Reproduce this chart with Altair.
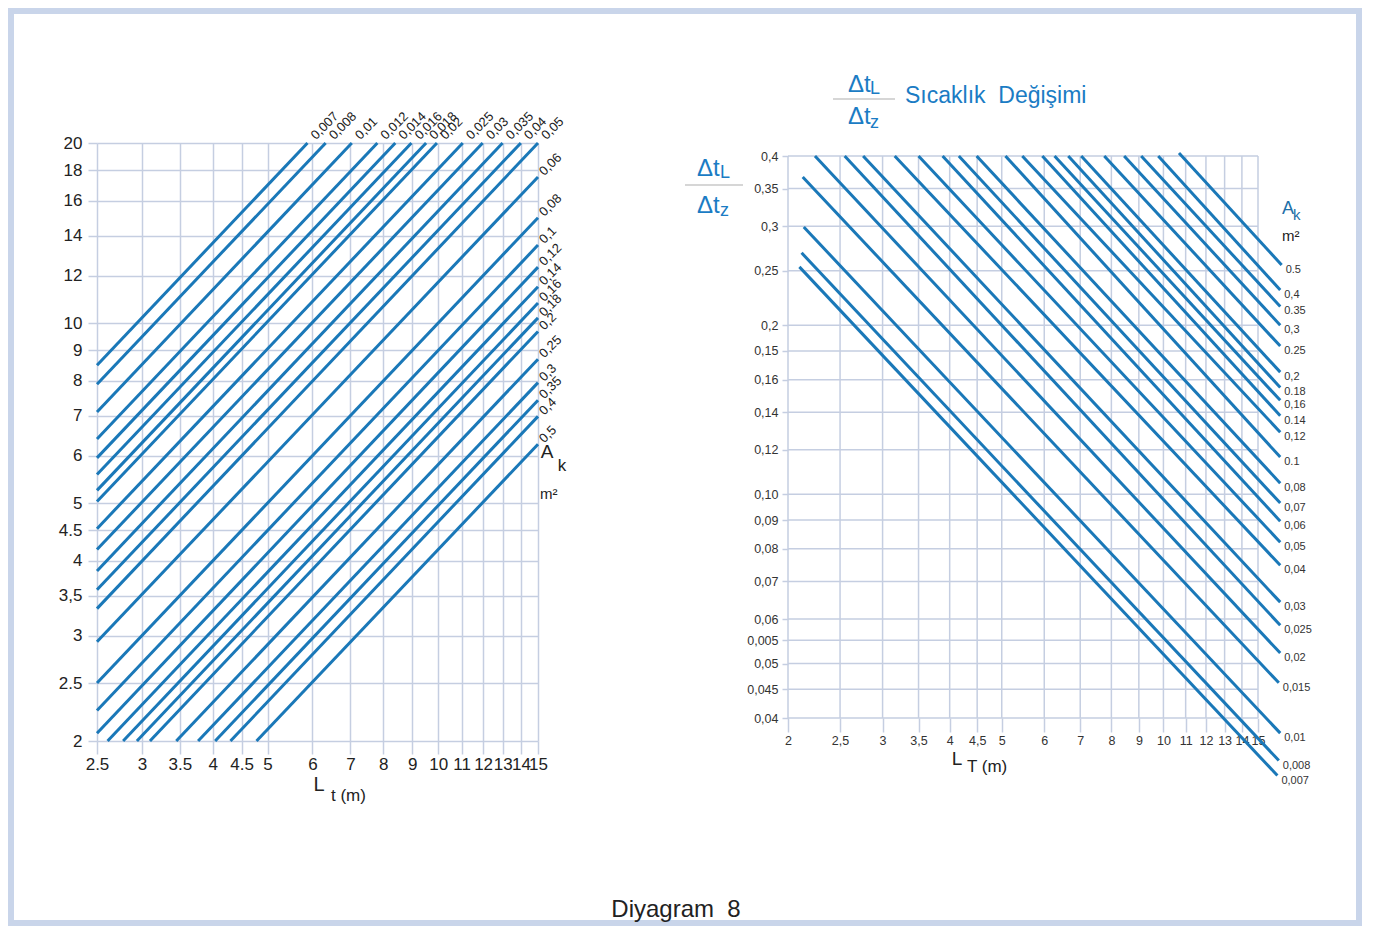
import json
import altair as alt
import pandas as pd

FONT = "Liberation Sans"
GRID = "#c5cee1"
LINE = "#1a78b8"
BLUE = "#1b7cc4"
DARK = "#222222"
BORDER = "#c9d5ea"
NB = "\u00a0"

# ---------------- left panel (L_t vs ... for A_k) ----------------
left_ak = ["0,007", "0,008", "0,01", "0,012", "0,014", "0,016", "0,018", "0,02", "0,025",
           "0,03", "0,035", "0,04", "0,05", "0,06", "0,08", "0,1", "0,12", "0,14", "0,16",
           "0,18", "0,2", "0,25", "0,3", "0,35", "0,4", "0,5"]
left_x0 = [2.5, 2.5, 2.5, 2.5, 2.5, 2.5, 2.5, 2.5, 2.5, 2.5, 2.5, 2.5, 2.5, 2.5, 2.5, 2.5, 2.5,
           2.61, 2.78, 2.94, 3.10, 3.45, 3.77, 4.04, 4.30, 4.78]
left_y0 = [8.5, 7.9, 7.1, 6.4, 5.95, 5.58, 5.25, 5.03, 4.53, 4.18, 3.85, 3.58, 3.33, 2.93, 2.5,
           2.25, 2.06, 2, 2, 2, 2, 2, 2, 2, 2, 2]
left_x1 = [5.88, 6.33, 7.04, 7.81, 8.40, 8.97, 9.52, 9.95, 11.05, 11.98, 12.99, 13.99, 15,
           15, 15, 15, 15, 15, 15, 15, 15, 15, 15, 15, 15, 15]
left_y1 = [20, 20, 20, 20, 20, 20, 20, 20, 20, 20, 20, 20, 20,
           17.55, 15.0, 13.5, 12.4, 11.5, 10.8, 10.2, 9.68, 8.7, 7.95, 7.43, 6.98, 6.27]

left_xticks = [2.5, 3, 3.5, 4, 4.5, 5, 6, 7, 8, 9, 10, 11, 12, 13, 14, 15]
left_xlabels = ["2.5", "3", "3.5", "4", "4.5", "5", "6", "7", "8", "9", "10", "11", "12", "13", "14", "15"]
left_yticks = [2, 2.5, 3, 3.5, 4, 4.5, 5, 6, 7, 8, 9, 10, 12, 14, 16, 18, 20]
left_ylabels = ["2", "2.5", "3", "3,5", "4", "4.5", "5", "6", "7", "8", "9", "10", "12", "14", "16", "18", "20"]

# ---------------- right panel (dtL/dtz vs L_T) ----------------
right_ak = ["0,007", "0,008", "0,01", "0,015", "0,02", "0,025", "0,03", "0,04", "0,05", "0,06",
            "0,07", "0,08", "0.1", "0,12", "0.14", "0,16", "0.18", "0,2", "0.25", "0,3", "0.35",
            "0,4", "0.5"]
right_x0 = [2.10, 2.12, 2.14, 2.13, 2.245, 2.55, 2.76, 3.16, 3.50, 3.88, 4.16, 4.49, 5.08, 5.46,
            5.95, 6.27, 6.65, 7.03, 7.76, 8.45, 9.09, 9.78, 10.69]
right_y0 = [0.254, 0.269, 0.299, 0.367, 0.4, 0.4, 0.4, 0.4, 0.4, 0.4, 0.4, 0.4, 0.4, 0.4, 0.4,
            0.4, 0.4, 0.4, 0.4, 0.4, 0.4, 0.4, 0.405]
right_x1 = [16.3, 16.4, 16.5, 16.4, 16.5, 16.5, 16.5, 16.5, 16.5, 16.5, 16.5, 16.5, 16.5, 16.5,
            16.5, 16.5, 16.5, 16.5, 16.5, 16.5, 16.5, 16.5, 16.6]
right_y1 = [0.0316, 0.0336, 0.0376, 0.0462, 0.0522, 0.0585, 0.0643, 0.0748, 0.0822, 0.0896,
            0.0965, 0.1047, 0.1165, 0.129, 0.138, 0.147, 0.155, 0.165, 0.1836, 0.200, 0.216,
            0.231, 0.256]

right_xticks = [2, 2.5, 3, 3.5, 4, 4.5, 5, 6, 7, 8, 9, 10, 11, 12, 13, 14, 15]
right_xlabels = ["2", "2,5", "3", "3,5", "4", "4,5", "5", "6", "7", "8", "9", "10", "11", "12",
                 "13", "14", "15"]
right_yticks = [0.4, 0.35, 0.3, 0.25, 0.2, 0.18, 0.16, 0.14, 0.12, 0.1, 0.09, 0.08, 0.07, 0.06,
                0.055, 0.05, 0.045, 0.04]
right_ylabels = ["0,4", "0,35", "0,3", "0,25", "0,2", "0,15", "0,16", "0,14", "0,12", "0,10",
                 "0,09", "0,08", "0,07", "0,06", "0,005", "0,05", "0,045", "0,04"]


def lab_expr(values, labels):
    return f"{json.dumps(labels)}[indexof({json.dumps(values)}, datum.value)]"


def txt(text, x, y, size, color=DARK, align="center"):
    return alt.Chart(alt.Data(values=[{"t": text}])).mark_text(
        align=align, baseline="middle", fontSize=size, font=FONT, color=color
    ).encode(x=alt.value(x), y=alt.value(y), text="t:N")


def hbar(x1, x2, y, color="#c8c8c8", width=1.5):
    return alt.Chart(alt.Data(values=[{"t": 1}])).mark_rule(color=color, strokeWidth=width).encode(
        x=alt.value(x1), x2=alt.value(x2), y=alt.value(y))


# ---------- left panel charts ----------
left_lines_df = pd.DataFrame({"ak": left_ak + left_ak, "x": left_x0 + left_x1, "y": left_y0 + left_y1})
left_lab_df = pd.DataFrame({"ak": left_ak, "x": left_x1, "y": left_y1})
left_top_df = left_lab_df[left_lab_df["y"] >= left_yticks[-1]]
left_side_df = left_lab_df[left_lab_df["y"] < left_yticks[-1]]

lx = alt.Scale(type="log", domain=[left_xticks[0], left_xticks[-1]], nice=False)
ly = alt.Scale(type="log", domain=[left_yticks[0], left_yticks[-1]], nice=False)
left_xaxis = alt.Axis(values=left_xticks, labelExpr=lab_expr(left_xticks, left_xlabels), title=None,
                      grid=True, gridColor=GRID, gridWidth=1.5, domain=False, tickColor=GRID,
                      tickWidth=1.5, tickSize=13, labelFont=FONT, labelFontSize=17,
                      labelColor=DARK, labelPadding=2, labelFlush=False, labelOverlap=False)
left_yaxis = alt.Axis(values=left_yticks, labelExpr=lab_expr(left_yticks, left_ylabels), title=None,
                      grid=True, gridColor=GRID, gridWidth=1.5, domain=False, tickColor=GRID,
                      tickWidth=1.5, tickSize=9, labelFont=FONT, labelFontSize=17,
                      labelColor=DARK, labelPadding=6, labelFlush=False, labelOverlap=False)

LX = alt.X("x:Q", scale=lx, axis=left_xaxis)
LY = alt.Y("y:Q", scale=ly, axis=left_yaxis)

frame = alt.Chart(alt.Data(values=[{"t": 1}])).mark_rect(
    filled=False, stroke=BORDER, strokeWidth=6).encode(
    x=alt.value(-86), x2=alt.value(1262), y=alt.value(-132), y2=alt.value(780))

left_lines = alt.Chart(left_lines_df).mark_line(color=LINE, strokeWidth=3).encode(
    x=LX, y=LY, detail="ak:N")
left_top_labels = alt.Chart(left_top_df).mark_text(
    angle=315, align="left", baseline="middle", dx=8, fontSize=13, font=FONT, color=DARK
).encode(x=LX, y=LY, text="ak:N")
left_side_labels = alt.Chart(left_side_df).mark_text(
    angle=315, align="left", baseline="middle", dx=5, fontSize=13, font=FONT, color=DARK
).encode(x=LX, y=LY, text="ak:N")

left = alt.layer(
    frame, left_lines, left_top_labels, left_side_labels,
    txt("L", 222, 642, 20),
    txt("t (m)", 234, 653, 17, align="left"),
    txt("A", 450, 309, 19),
    txt("k", 465, 323, 17),
    txt("m²", 443, 351, 15, align="left"),
    txt("Diyagram" + NB + NB + "8", 579, 767, 24),
).properties(width=441, height=598)

# ---------- right panel charts ----------
rx = alt.Scale(type="log", domain=[right_xticks[0], right_xticks[-1]], nice=False)
ry = alt.Scale(type="log", domain=[0.04, 0.4219], nice=False)
right_xaxis = alt.Axis(values=right_xticks, labelExpr=lab_expr(right_xticks, right_xlabels),
                       title=None, grid=False, domain=False, tickColor=GRID, tickWidth=1.5,
                       tickSize=14, labelFont=FONT, labelFontSize=12.5, labelColor="#333333",
                       labelPadding=2, labelFlush=False, labelOverlap=False)
right_yaxis = alt.Axis(values=right_yticks, labelExpr=lab_expr(right_yticks, right_ylabels),
                       title=None, grid=False, domain=False, tickColor=GRID, tickWidth=1.5,
                       tickSize=6, labelFont=FONT, labelFontSize=12.5, labelColor="#333333",
                       labelPadding=4, labelFlush=False, labelOverlap=False)

gv_df = pd.DataFrame({"v": right_xticks, "top": right_yticks[0], "bot": right_yticks[-1]})
gh_df = pd.DataFrame({"v": right_yticks, "lo": right_xticks[0], "hi": right_xticks[-1]})

grid_v = alt.Chart(gv_df).mark_rule(color=GRID, strokeWidth=1.5).encode(
    x=alt.X("v:Q", scale=rx, axis=right_xaxis),
    y=alt.Y("top:Q", scale=ry, axis=right_yaxis), y2="bot:Q")
grid_h = alt.Chart(gh_df).mark_rule(color=GRID, strokeWidth=1.5).encode(
    y=alt.Y("v:Q", scale=ry, axis=right_yaxis),
    x=alt.X("lo:Q", scale=rx, axis=right_xaxis), x2="hi:Q")

right_lines_df = pd.DataFrame({"ak": right_ak + right_ak, "x": right_x0 + right_x1,
                               "y": right_y0 + right_y1})
right_lab_df = pd.DataFrame({"ak": right_ak, "x": right_x1, "y": right_y1})

RX = alt.X("x:Q", scale=rx, axis=right_xaxis)
RY = alt.Y("y:Q", scale=ry, axis=right_yaxis)

right_lines = alt.Chart(right_lines_df).mark_line(color=LINE, strokeWidth=3).encode(
    x=RX, y=RY, detail="ak:N")
right_labels = alt.Chart(right_lab_df).mark_text(
    align="left", baseline="middle", dx=4, dy=5, fontSize=11, font=FONT, color="#333333"
).encode(x=RX, y=RY, text="ak:N")

right = alt.layer(
    grid_v, grid_h, right_lines, right_labels,
    # y-axis fraction title
    txt("Δt", -91, 26, 24, BLUE, align="left"),
    txt("L", -68, 30, 18, BLUE, align="left"),
    hbar(-103, -45, 42),
    txt("Δt", -91, 63, 24, BLUE, align="left"),
    txt("z", -68, 68, 18, BLUE, align="left"),
    # top title
    txt("Δt", 60, -58, 24, BLUE, align="left"),
    txt("L", 82, -54, 18, BLUE, align="left"),
    hbar(45, 107, -44),
    txt("Δt", 60, -26, 24, BLUE, align="left"),
    txt("z", 82, -20, 18, BLUE, align="left"),
    txt("Sıcaklık" + NB + NB + "Değişimi", 117, -47, 23, BLUE, align="left"),
    # x axis title
    txt("L", 169, 616, 19),
    txt("T (m)", 179, 624, 17, align="left"),
    # A_k legend text
    txt("A", 500, 66, 18, "#1d6fa8"),
    txt("k", 505, 72, 15, "#1d6fa8", align="left"),
    txt("m²", 494, 93, 15, align="left"),
).properties(width=470, height=575)

chart = alt.hconcat(left, right, spacing=250, bounds="flush", padding=0).configure(
    background="white").configure_view(stroke="transparent", strokeWidth=0)

chart.save("out.html", embed_options={"renderer": "svg", "actions": False})
